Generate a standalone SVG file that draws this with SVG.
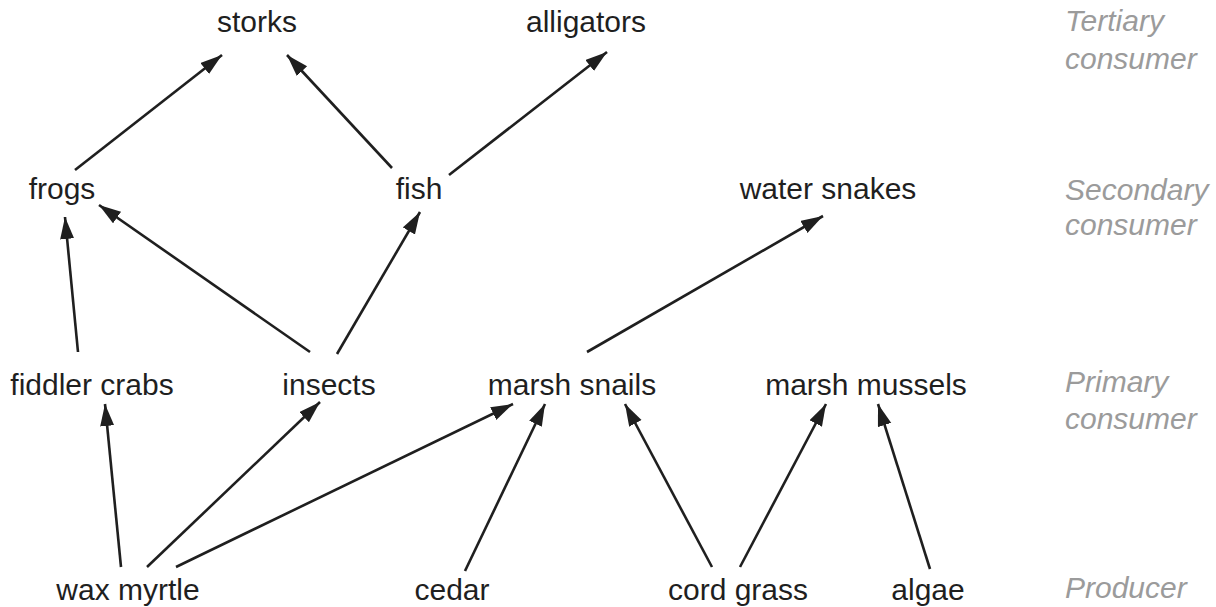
<svg xmlns="http://www.w3.org/2000/svg" width="1216" height="607" viewBox="0 0 1216 607">
<style>
.n{font-family:"Liberation Sans",Arial,sans-serif;font-size:30px;fill:#1f1f1f;text-anchor:middle}
.l{font-family:"Liberation Sans",Arial,sans-serif;font-size:30px;fill:#9b9b9b;font-style:italic}
.c line{stroke:#1f1f1f;stroke-width:2.6;marker-end:url(#ah)}
</style>
<defs>
<marker id="ah" markerUnits="userSpaceOnUse" markerWidth="24" markerHeight="16" refX="22" refY="7" orient="auto">
<path d="M0,0 L22,7 L0,14 Z" fill="#1f1f1f"/>
</marker>
</defs>
<rect width="1216" height="607" fill="#fff"/>
<g id="levels">
<text class="l" x="1065" y="31">Tertiary</text>
<text class="l" x="1065" y="69">consumer</text>
<text class="l" x="1065" y="200">Secondary</text>
<text class="l" x="1065" y="235">consumer</text>
<text class="l" x="1065" y="392">Primary</text>
<text class="l" x="1065" y="429">consumer</text>
<text class="l" x="1065" y="598">Producer</text>
</g>
<g id="storks"><text class="n" x="257" y="32">storks</text></g>
<g id="alligators"><text class="n" x="586" y="32">alligators</text></g>
<g id="frogs"><text class="n" x="62" y="199">frogs</text></g>
<g id="fish"><text class="n" x="419" y="199">fish</text></g>
<g id="water-snakes"><text class="n" x="828" y="199">water snakes</text></g>
<g id="fiddler-crabs"><text class="n" x="92" y="395">fiddler crabs</text></g>
<g id="insects"><text class="n" x="329" y="395">insects</text></g>
<g id="marsh-snails"><text class="n" x="572" y="395">marsh snails</text></g>
<g id="marsh-mussels"><text class="n" x="866" y="395">marsh mussels</text></g>
<g id="wax-myrtle"><text class="n" x="128" y="600">wax myrtle</text></g>
<g id="cedar"><text class="n" x="452" y="600">cedar</text></g>
<g id="cord-grass"><text class="n" x="738" y="600">cord grass</text></g>
<g id="algae"><text class="n" x="928" y="600">algae</text></g>
<g id="connectors" class="c">
<line x1="75" y1="170" x2="222" y2="55"/>
<line x1="392" y1="168" x2="287" y2="55"/>
<line x1="449" y1="175" x2="607" y2="52"/>
<line x1="78" y1="352" x2="65" y2="217"/>
<line x1="310" y1="352" x2="99" y2="205"/>
<line x1="337" y1="354" x2="420" y2="212"/>
<line x1="587" y1="352" x2="823" y2="216"/>
<line x1="121" y1="567" x2="105" y2="404"/>
<line x1="147" y1="567" x2="320" y2="402"/>
<line x1="176" y1="567" x2="513" y2="404"/>
<line x1="465" y1="571" x2="545" y2="404"/>
<line x1="712" y1="567" x2="625" y2="404"/>
<line x1="740" y1="567" x2="826" y2="404"/>
<line x1="930" y1="569" x2="878" y2="404"/>
</g>
</svg>
